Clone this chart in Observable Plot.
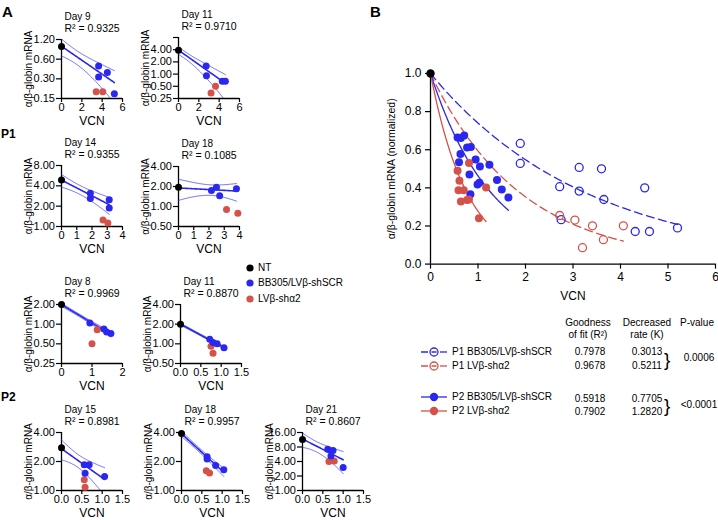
<!DOCTYPE html>
<html><head><meta charset="utf-8">
<script src="https://cdn.jsdelivr.net/npm/d3@7"></script>
<script src="https://cdn.jsdelivr.net/npm/@observablehq/plot@0.6"></script>
<style>
body{margin:0;background:#fff;}
#root{position:relative;width:718px;height:520px;overflow:hidden;font-family:"Liberation Sans",Arial,sans-serif;color:#000;background:#fff;}
.abs{position:absolute;white-space:nowrap;line-height:1;}
</style></head><body><div id="root"></div>
<script>
const BLUE = "#2a27ef", RED = "#d4524a";

// ---------- Panel A data ----------
const aTitles = ["Day 9","Day 11","Day 14","Day 18","Day 8","Day 11","Day 15","Day 18","Day 21"];
const aR2 = ["0.9325","0.9710","0.9355","0.1085","0.9969","0.8870","0.8981","0.9957","0.8607"];
const aNT = [0.94, 3.9, 4.9, 1.95, 2.0, 2.0, 2.77, 3.9, 11.5];
const aBlueVCN = [[3.65,3.65,4.51,5.20],[2.72,2.75,4.31,4.61],[1.89,1.89,3.13,3.13],[2.16,2.49,2.70,3.80],[0.93,1.39,1.48,1.62],[0.72,0.80,0.90,1.07],[0.56,0.68,0.58,1.06],[0.63,0.63,0.84,1.04],[0.62,0.75,0.70,1.00]];
const aBlueMRNA = [[0.47,0.32,0.375,0.178],[1.58,0.91,0.67,0.67],[3.10,2.59,2.48,1.88],[1.74,1.95,1.45,1.85],[1.04,0.84,0.76,0.72],[1.18,1.05,1.00,0.87],[1.85,1.85,1.51,1.40],[2.24,2.12,1.82,1.64],[7.2,6.8,5.2,3.0]];
const aRedVCN = [[3.41,4.06],[3.20,3.64],[2.72,3.04],[3.15,3.89],[1.17,1.00],[0.75,0.80],[0.56,0.58],[0.61,0.69],[0.65,0.78]];
const aRedMRNA = [[0.19,0.19],[0.34,0.50],[1.25,1.13],[0.90,0.79],[0.82,0.50],[0.92,0.72],[1.29,1.08],[1.60,1.52],[4.0,4.1]];
const aYTicks = [[0.15,0.30,0.60,1.20],[0.25,0.5,1,2,4,8],[1,2,4,8],[0.5,1,2,4],[0.25,0.5,1,2],[0.5,1,2,4],[1,2,4],[1,2,4],[1,2,4,8,16]];
const aXTicks = [[0,2,4,6],[0,2,4,6],[0,1,2,3,4],[0,1,2,3,4],[0,1,2],[0,0.5,1,1.5],[0,0.5,1,1.5],[0,0.5,1,1.5],[0,0.5,1,1.5]];
const aLegend = ["NT","BB305/LV\u03b2-shSCR","LV\u03b2-sh\u03b12"];
const aYLabel = "\u03b1/\u03b2-globin mRNA";

// ---------- Panel B data ----------
const bGroups = ["P1 BB305/LV\u03b2-shSCR","P1 LV\u03b2-sh\u03b12","P2 BB305/LV\u03b2-shSCR","P2 LV\u03b2-sh\u03b12"];
const bR2 = ["0.7978","0.9678","0.5918","0.7902"];
const bK = [0.3013, 0.5211, 0.7705, 1.2820];
const bKText = ["0.3013","0.5211","0.7705","1.2820"];
const bPValues = ["0.0006","<0.0001"];
const bP1ScrVCN = [1.89,1.89,2.72,2.75,3.13,3.13,3.60,3.65,4.51,4.31,4.61,5.20];
const bP1ScrMRNA = [0.633,0.528,0.406,0.233,0.507,0.383,0.500,0.339,0.400,0.171,0.171,0.190];
const bP1ShVCN = [2.72,3.04,3.20,3.41,3.64,4.06];
const bP1ShMRNA = [0.255,0.231,0.086,0.201,0.128,0.201];
const bP2ScrVCN = [0.57,0.64,0.71,0.63,0.60,0.77,0.85,0.95,1.04,1.24,0.82,1.03,0.99,0.84,1.40,1.50,1.64];
const bP2ScrMRNA = [0.664,0.661,0.675,0.577,0.535,0.612,0.615,0.549,0.512,0.521,0.470,0.427,0.418,0.367,0.441,0.392,0.350];
const bP2ShVCN = [0.57,0.61,0.59,0.70,0.64,0.77,0.81,0.81,1.17,1.02];
const bP2ShMRNA = [0.490,0.437,0.388,0.388,0.329,0.336,0.339,0.530,0.402,0.241];
const bNT = [{x:0, y:1.0}];
const bXTicks = [0,1,2,3,4,5,6];
const bYTicks = [0,0.2,0.4,0.6,0.8,1.0];
const bYLabel = "\u03b1/\u03b2-globin mRNA (normalized)";

// ---------- layout ----------
const root = document.getElementById("root");
const aLayout = [[61,39,98],[178,37,98],[61,165,226],[178,166,226],[61,304,363],[180,304,363],[61,432,490],[181,432,490],[302,432,490]];
const FONT = "Liberation Sans, Arial, sans-serif";

function label(txt, x, y, {size=10, weight="normal", anchor="start"}={}) {
  const d = document.createElement("div");
  d.className = "abs"; d.textContent = txt;
  d.style.fontSize = size + "px"; d.style.fontWeight = weight;
  const tx = anchor === "middle" ? "-50%" : anchor === "end" ? "-100%" : "0";
  d.style.transform = `translate(${tx},-50%)`;
  d.style.left = x + "px"; d.style.top = y + "px";
  root.appendChild(d);
}
function place(el, left, top) {
  el.style.position = "absolute"; el.style.left = left + "px"; el.style.top = top + "px";
  root.appendChild(el);
}

// nonlinear least squares y = A exp(-k x), with 95% CI of the curve
const T95 = {1:12.706,2:4.303,3:3.182,4:2.776,5:2.571,6:2.447,7:2.365,8:2.306,9:2.262,10:2.228};
function expFit(pts, xmax) {
  const n = pts.length;
  const mx = d3.mean(pts, d => d.x), my = d3.mean(pts, d => Math.log(d.y));
  let sxx = 0, sxy = 0;
  for (const d of pts) { sxx += (d.x - mx) ** 2; sxy += (d.x - mx) * (Math.log(d.y) - my); }
  let k = -sxy / sxx, A = Math.exp(my + k * mx);
  const normal = () => {
    let a11=0,a12=0,a22=0,b1=0,b2=0,sse=0;
    for (const d of pts) {
      const e = Math.exp(-k * d.x), r = d.y - A * e, j1 = e, j2 = -A * d.x * e;
      a11 += j1*j1; a12 += j1*j2; a22 += j2*j2; b1 += j1*r; b2 += j2*r; sse += r*r;
    }
    return {a11,a12,a22,b1,b2,sse};
  };
  for (let it = 0; it < 200; it++) {
    const {a11,a12,a22,b1,b2} = normal();
    const det = a11*a22 - a12*a12;
    const dA = (a22*b1 - a12*b2) / det, dk = (a11*b2 - a12*b1) / det;
    A += 0.7*dA; k += 0.7*dk;
    if (Math.abs(dA) < 1e-12 && Math.abs(dk) < 1e-12) break;
  }
  const {a11,a12,a22,sse} = normal();
  const det = a11*a22 - a12*a12, s2 = sse / (n - 2);
  const c11 = s2*a22/det, c12 = -s2*a12/det, c22 = s2*a11/det;
  const t = T95[n - 2];
  return d3.range(0, 81).map(i => {
    const x = xmax * i / 80, e = Math.exp(-k * x), f = A * e, g1 = e, g2 = -A * x * e;
    const se = Math.sqrt(Math.max(0, g1*g1*c11 + 2*g1*g2*c12 + g2*g2*c22));
    return {x, y: f, lo: f - t*se, hi: f + t*se};
  });
}

function smallPlot(i) {
  const [ax, top, bot] = aLayout[i];
  const ML = 60, MT = 30, MB = 32, MR = 10, W = 61, H = bot - top;
  const yt = aYTicks[i], xt = aXTicks[i];
  const nt = [{x: 0, y: aNT[i]}];
  const blue = aBlueVCN[i].map((x, j) => ({x, y: aBlueMRNA[i][j]}));
  const red = aRedVCN[i].map((x, j) => ({x, y: aRedMRNA[i][j]}));
  const fit = expFit([...nt, ...blue], d3.max(blue, d => d.x));
  const xf = xt.some(v => !Number.isInteger(v)) ? d3.format(".1f") : d3.format("d");
  const svg = Plot.plot({
    width: ML + W + MR, height: MT + H + MB,
    marginLeft: ML, marginRight: MR, marginTop: MT, marginBottom: MB,
    style: {background: "transparent", overflow: "visible", fontFamily: FONT, fontSize: "11px", color: "black"},
    x: {domain: [0, xt[xt.length - 1]]},
    y: {type: "log", domain: [yt[0], yt[yt.length - 1]]},
    marks: [
      Plot.axisY({ticks: yt, tickFormat: d3.format(".2f"), tickSize: 5, tickPadding: 1.5, strokeWidth: 1.2, label: null, fontSize: 11}),
      Plot.axisX({ticks: xt, tickFormat: xf, tickSize: 4, tickPadding: 1, strokeWidth: 1.2, label: null, fontSize: 11}),
      Plot.ruleX([0], {strokeWidth: 1.3}),
      Plot.ruleY([yt[0]], {strokeWidth: 1.3}),
      Plot.line(fit, {x: "x", y: "hi", stroke: BLUE, strokeWidth: 0.8, strokeOpacity: 0.85, clip: true}),
      Plot.line(fit.filter(d => d.lo > 0), {x: "x", y: "lo", stroke: BLUE, strokeWidth: 0.8, strokeOpacity: 0.85, clip: true}),
      Plot.line(fit, {x: "x", y: "y", stroke: BLUE, strokeWidth: 1.6}),
      Plot.dot(red, {x: "x", y: "y", r: 3.5, fill: RED}),
      Plot.dot(blue, {x: "x", y: "y", r: 3.5, fill: BLUE}),
      Plot.dot(nt, {x: "x", y: "y", r: 3.5, fill: "black"}),
      Plot.text([aTitles[i]], {text: d => d, frameAnchor: "top-left", dx: 3, dy: -23, textAnchor: "start", lineAnchor: "middle", fontSize: 10}),
      Plot.text(["R\u00b2 = " + aR2[i]], {text: d => d, frameAnchor: "top-left", dx: 3, dy: -11, textAnchor: "start", lineAnchor: "middle", fontSize: 10.5}),
      Plot.text([aYLabel], {text: d => d, frameAnchor: "left", rotate: -90, dx: -33, textAnchor: "middle", lineAnchor: "middle", fontSize: 10}),
      Plot.text(["VCN"], {text: d => d, frameAnchor: "bottom", dy: 23, textAnchor: "middle", lineAnchor: "middle", fontSize: 12})
    ]
  });
  place(svg, ax - ML, top - MT);
}
for (let i = 0; i < aTitles.length; i++) smallPlot(i);

// panel labels
label("A", 2, 11, {size: 15, weight: "bold"});
label("P1", 1, 134, {size: 12, weight: "bold"});
label("P2", 1, 397, {size: 12, weight: "bold"});
label("B", 370, 11, {size: 15, weight: "bold"});

// Panel A legend
{
  const lx = 250, ly = [268, 283, 299], cols = ["black", BLUE, RED];
  const s = d3.create("svg").attr("width", 12).attr("height", 50);
  ly.forEach((y, j) => s.append("circle").attr("cx", 6).attr("cy", y - ly[0] + 6).attr("r", 3.6).attr("fill", cols[j]));
  place(s.node(), lx - 6, ly[0] - 6);
  aLegend.forEach((t, j) => label(t, lx + 8, ly[j], {size: 10}));
}

// ---------- Panel B plot ----------
{
  const groups = [
    {vcn: bP1ScrVCN, mrna: bP1ScrMRNA, color: BLUE, open: true, K: bK[0]},
    {vcn: bP1ShVCN, mrna: bP1ShMRNA, color: RED, open: true, K: bK[1]},
    {vcn: bP2ScrVCN, mrna: bP2ScrMRNA, color: BLUE, open: false, K: bK[2]},
    {vcn: bP2ShVCN, mrna: bP2ShMRNA, color: RED, open: false, K: bK[3]}
  ];
  const ML = 60, MR = 3, MT = 12, MB = 45, PW = 285, PH = 190.6;
  const marks = [
    Plot.axisY({ticks: bYTicks, tickFormat: d3.format(".1f"), tickSize: 5, tickPadding: 4, strokeWidth: 1.2, label: null, fontSize: 12}),
    Plot.axisX({ticks: bXTicks, tickFormat: d3.format("d"), tickSize: 5, tickPadding: 3, strokeWidth: 1.2, label: null, fontSize: 12}),
    Plot.ruleX([0], {strokeWidth: 1.3}),
    Plot.ruleY([0], {strokeWidth: 1.3})
  ];
  groups.forEach(g => {
    const xmax = d3.max(g.vcn);
    const curve = d3.range(0, 121).map(i => { const x = xmax * i / 120; return {x, y: Math.exp(-g.K * x)}; });
    marks.push(Plot.line(curve, {x: "x", y: "y", stroke: g.color, strokeWidth: 1.3, strokeDasharray: g.open ? "8,4.5" : null}));
  });
  groups.forEach(g => {
    const pts = g.vcn.map((x, j) => ({x, y: g.mrna[j]}));
    marks.push(g.open
      ? Plot.dot(pts, {x: "x", y: "y", r: 4, stroke: g.color, strokeWidth: 1.3, fill: "none"})
      : Plot.dot(pts, {x: "x", y: "y", r: 4, fill: g.color}));
  });
  marks.push(Plot.dot(bNT, {x: "x", y: "y", r: 4.2, fill: "black"}));
  marks.push(Plot.text([bYLabel], {text: d => d, frameAnchor: "left", rotate: -90, dx: -38.5, textAnchor: "middle", lineAnchor: "middle", fontSize: 10.5}));
  marks.push(Plot.text(["VCN"], {text: d => d, frameAnchor: "bottom", dy: 32, textAnchor: "middle", lineAnchor: "middle", fontSize: 12}));
  const svg = Plot.plot({
    width: ML + PW + MR, height: MT + PH + MB,
    marginLeft: ML, marginRight: MR, marginTop: MT, marginBottom: MB,
    style: {background: "transparent", overflow: "visible", fontFamily: FONT, fontSize: "12px", color: "black"},
    x: {domain: [0, 6]}, y: {domain: [0, 1]},
    marks
  });
  place(svg, 430.3 - ML, 72.7 - MT);
}

// ---------- Panel B table & legend ----------
{
  const rowsY = [352, 366, 397, 411];
  const valY = [352, 365.5, 399, 412];
  const cols = [BLUE, RED, BLUE, RED];
  const s = d3.create("svg").attr("width", 30).attr("height", 80).style("overflow", "visible");
  rowsY.forEach((y, j) => {
    const yy = y - 340;
    const open = j < 2;
    s.append("line").attr("x1", 1).attr("x2", 27).attr("y1", yy).attr("y2", yy)
      .attr("stroke", cols[j]).attr("stroke-width", 1.3).attr("stroke-dasharray", open ? "7,3.5,5,20" : null);
    if (open) {
      s.append("line").attr("x1", 20).attr("x2", 27).attr("y1", yy).attr("y2", yy).attr("stroke", cols[j]).attr("stroke-width", 1.3);
      s.append("circle").attr("cx", 14).attr("cy", yy).attr("r", 4).attr("fill", "none").attr("stroke", cols[j]).attr("stroke-width", 1.3);
    } else {
      s.append("circle").attr("cx", 14).attr("cy", yy).attr("r", 4.2).attr("fill", cols[j]);
    }
  });
  place(s.node(), 420, 340);
  bGroups.forEach((t, j) => label(t, 452, rowsY[j], {size: 10}));
  label("Goodness", 588, 323, {size: 10, anchor: "middle"});
  label("of fit (R\u00b2)", 588, 335, {size: 10, anchor: "middle"});
  label("Decreased", 647, 323, {size: 10, anchor: "middle"});
  label("rate (K)", 647, 335, {size: 10, anchor: "middle"});
  label("P-value", 697, 323, {size: 10, anchor: "middle"});
  bR2.forEach((t, j) => label(t, 590, valY[j], {size: 10, anchor: "middle"}));
  bKText.forEach((t, j) => label(t, 647, valY[j], {size: 10, anchor: "middle"}));
  label("}", 664, 358.5, {size: 19});
  label("}", 664, 405, {size: 19});
  label(bPValues[0], 699, 358, {size: 10, anchor: "middle"});
  label(bPValues[1], 699, 405, {size: 10, anchor: "middle"});
}
</script></body></html>
